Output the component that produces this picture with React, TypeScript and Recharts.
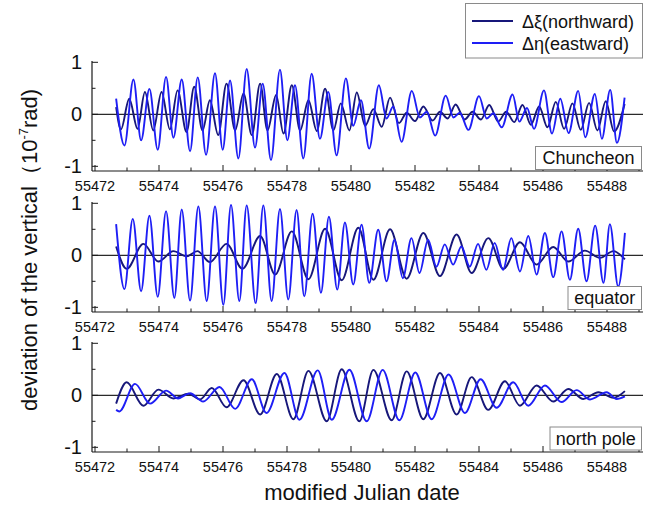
import React from 'react';
import { LineChart, Line, XAxis, YAxis, ReferenceLine } from 'recharts';

// ---------- data ----------
const xTicks = [55472, 55473, 55474, 55475, 55476, 55477, 55478, 55479, 55480, 55481, 55482, 55483, 55484, 55485, 55486, 55487, 55488, 55489];
const xLabelTicks = [55472, 55474, 55476, 55478, 55480, 55482, 55484, 55486, 55488];
const yTicks = [-1, -0.5, 0, 0.5, 1];
const yLabelTicks = [-1, 0, 1];
const seriesNames = ['Δξ(northward)', 'Δη(eastward)'];
const panelNames = ['Chuncheon', 'equator', 'north pole'];

// [modified Julian date, deviation (1e-7 rad)] at the turning points of each curve
const chuncheonNorth: [number, number][] = [
  [55472.66, 0.14], [55472.81, -0.29], [55473.07, 0.30], [55473.33, -0.28], [55473.56, 0.43],
  [55473.82, -0.31], [55474.08, 0.43], [55474.34, -0.29], [55474.58, 0.46], [55474.86, -0.34],
  [55475.10, 0.53], [55475.36, -0.31], [55475.59, 0.27], [55475.85, -0.40], [55476.11, 0.59],
  [55476.38, -0.31], [55476.64, 0.40], [55476.90, -0.40], [55477.16, 0.59], [55477.39, -0.31],
  [55477.66, 0.37], [55477.89, -0.37], [55478.15, 0.56], [55478.41, -0.31], [55478.67, 0.27],
  [55478.93, -0.32], [55479.19, 0.49], [55479.45, -0.31], [55479.68, 0.21], [55479.95, -0.31],
  [55480.18, 0.42], [55480.44, -0.22], [55480.70, 0.10], [55480.96, -0.24], [55481.22, 0.32],
  [55481.50, -0.17], [55481.74, 0.03], [55482.00, -0.13], [55482.26, 0.15], [55482.55, -0.12],
  [55482.78, 0.05], [55483.02, -0.08], [55483.27, 0.19], [55483.55, -0.10], [55483.80, 0.05],
  [55484.06, -0.10], [55484.32, 0.18], [55484.60, -0.14], [55484.85, 0.05], [55485.10, -0.15],
  [55485.36, 0.18], [55485.62, -0.20], [55485.88, 0.15], [55486.14, -0.25], [55486.40, 0.24],
  [55486.66, -0.28], [55486.92, 0.21], [55487.18, -0.30], [55487.44, 0.22], [55487.70, -0.31],
  [55487.96, 0.25], [55488.22, -0.33], [55488.55, 0.20],
];
const chuncheonEast: [number, number][] = [
  [55472.66, 0.30], [55472.92, -0.60], [55473.20, 0.67], [55473.44, -0.50], [55473.70, 0.49],
  [55473.96, -0.68], [55474.22, 0.72], [55474.45, -0.45], [55474.71, 0.67], [55474.97, -0.71],
  [55475.21, 0.71], [55475.47, -0.78], [55475.75, 0.79], [55475.99, -0.68], [55476.22, 0.65],
  [55476.48, -0.85], [55476.74, 0.87], [55477.00, -0.64], [55477.24, 0.59], [55477.50, -0.88],
  [55477.78, 0.86], [55478.01, -0.50], [55478.25, 0.56], [55478.51, -0.85], [55478.77, 0.78],
  [55479.03, -0.47], [55479.29, 0.43], [55479.55, -0.79], [55479.84, 0.69], [55480.07, -0.22],
  [55480.31, 0.27], [55480.57, -0.66], [55480.87, 0.56], [55481.11, -0.08], [55481.32, 0.15],
  [55481.58, -0.53], [55481.90, 0.45], [55482.15, -0.06], [55482.37, 0.05], [55482.63, -0.41],
  [55482.96, 0.36], [55483.20, -0.06], [55483.40, 0.03], [55483.67, -0.30], [55484.00, 0.35],
  [55484.24, -0.08], [55484.45, 0.02], [55484.71, -0.25], [55485.05, 0.38], [55485.26, -0.14],
  [55485.50, 0.12], [55485.72, -0.28], [55486.03, 0.46], [55486.28, -0.37], [55486.54, 0.30],
  [55486.80, -0.36], [55487.10, 0.45], [55487.32, -0.44], [55487.62, 0.39], [55487.84, -0.47],
  [55488.10, 0.47], [55488.31, -0.55], [55488.55, 0.32],
];
const equatorNorth: [number, number][] = [
  [55472.66, 0.17], [55472.99, -0.26], [55473.51, 0.22], [55473.98, -0.12], [55474.45, 0.08],
  [55474.86, -0.02], [55475.20, 0.08], [55475.59, -0.13], [55476.11, 0.22], [55476.61, -0.26],
  [55477.16, 0.37], [55477.63, -0.37], [55478.15, 0.46], [55478.67, -0.46], [55479.19, 0.51],
  [55479.71, -0.48], [55480.23, 0.53], [55480.70, -0.47], [55481.22, 0.50], [55481.74, -0.45],
  [55482.26, 0.43], [55482.78, -0.40], [55483.30, 0.40], [55483.77, -0.34], [55484.29, 0.33],
  [55484.76, -0.26], [55485.28, 0.25], [55485.80, -0.18], [55486.32, 0.16], [55486.79, -0.12],
  [55487.31, 0.09], [55487.78, -0.05], [55488.20, 0.08], [55488.56, -0.08],
];
const equatorEast: [number, number][] = [
  [55472.66, 0.60], [55472.92, -0.65], [55473.18, 0.70], [55473.44, -0.69], [55473.70, 0.76],
  [55473.96, -0.80], [55474.22, 0.85], [55474.48, -0.82], [55474.71, 0.88], [55474.97, -0.87],
  [55475.23, 0.94], [55475.49, -0.88], [55475.75, 0.94], [55476.01, -0.95], [55476.25, 0.97],
  [55476.51, -0.88], [55476.74, 0.96], [55477.02, -0.92], [55477.26, 0.96], [55477.52, -0.88],
  [55477.78, 0.89], [55478.04, -0.85], [55478.30, 0.87], [55478.54, -0.79], [55478.80, 0.80],
  [55479.06, -0.72], [55479.31, 0.74], [55479.57, -0.66], [55479.81, 0.63], [55480.07, -0.56],
  [55480.33, 0.59], [55480.57, -0.53], [55480.85, 0.49], [55481.11, -0.50], [55481.36, 0.30],
  [55481.62, -0.44], [55481.89, 0.33], [55482.14, -0.34], [55482.41, 0.30], [55482.67, -0.22],
  [55482.93, 0.21], [55483.19, -0.18], [55483.45, 0.17], [55483.71, -0.22], [55483.97, 0.22],
  [55484.23, -0.28], [55484.49, 0.24], [55484.75, -0.28], [55485.01, 0.33], [55485.28, -0.31],
  [55485.54, 0.37], [55485.80, -0.37], [55486.06, 0.43], [55486.32, -0.42], [55486.58, 0.46],
  [55486.84, -0.47], [55487.10, 0.51], [55487.36, -0.50], [55487.63, 0.57], [55487.89, -0.53],
  [55488.09, 0.60], [55488.35, -0.60], [55488.56, 0.43],
];
const northPoleNorth: [number, number][] = [
  [55472.66, -0.16], [55472.99, 0.25], [55473.51, -0.20], [55473.98, 0.11], [55474.45, -0.06],
  [55474.92, 0.03], [55475.28, -0.08], [55475.65, 0.14], [55476.11, -0.23], [55476.64, 0.29],
  [55477.16, -0.37], [55477.68, 0.41], [55478.20, -0.46], [55478.67, 0.47], [55479.24, -0.50],
  [55479.71, 0.50], [55480.26, -0.50], [55480.70, 0.49], [55481.27, -0.48], [55481.74, 0.46],
  [55482.26, -0.46], [55482.78, 0.43], [55483.30, -0.37], [55483.77, 0.35], [55484.29, -0.28],
  [55484.81, 0.27], [55485.28, -0.20], [55485.80, 0.19], [55486.32, -0.12], [55486.79, 0.12],
  [55487.26, -0.07], [55487.73, 0.06], [55488.20, -0.05], [55488.56, 0.08],
];
const northPoleEast: [number, number][] = [
  [55472.66, -0.28], [55472.76, -0.31], [55473.25, 0.22], [55473.72, -0.16], [55474.22, 0.09],
  [55474.60, -0.06], [55474.97, 0.04], [55475.38, -0.12], [55475.89, 0.16], [55476.38, -0.26],
  [55476.90, 0.31], [55477.36, -0.34], [55477.92, 0.43], [55478.39, -0.47], [55478.96, 0.48],
  [55479.40, -0.47], [55479.95, 0.49], [55480.49, -0.50], [55480.99, 0.49], [55481.51, -0.48],
  [55482.01, 0.44], [55482.52, -0.46], [55483.05, 0.40], [55483.56, -0.34], [55484.05, 0.31],
  [55484.55, -0.24], [55485.07, 0.25], [55485.54, -0.20], [55486.06, 0.19], [55486.58, -0.13],
  [55487.05, 0.10], [55487.47, -0.08], [55487.99, 0.06], [55488.30, -0.07], [55488.56, -0.02],
];

// ---------- styling ----------
const NAVY = '#17177a';
const BLUE = '#1e1ef5';
const AXIS = '#1a1a1a';
const FONT = '"Liberation Sans", Arial, Helvetica, sans-serif';
const CHART_W = 656;
const PLOT_LEFT = 92;
const RIGHT_PAD = 13;
const TOP_PAD = 10;
const PLOT_H = 110;
const XAXIS_H = 30;
const CHART_H = TOP_PAD + PLOT_H + XAXIS_H;
const X_DOMAIN: [number, number] = [55471.906, 55489.125];
const Y_DOMAIN: [number, number] = [-1.09, 1.025];
const PANEL_TOPS = [60.7, 202.3, 342.4];

const toPoints = (arr: [number, number][]) => arr.map(([t, v]) => ({ t, v }));

const XTick = (props: any) => {
  const { x, y, payload } = props;
  const v = payload.value;
  const major = xLabelTicks.includes(v);
  return (
    <g>
      <line x1={x} x2={x} y1={y} y2={y - (major ? 6 : 3.5)} stroke={AXIS} strokeWidth={1} />
      {major && (
        <text x={x} y={y + 20} textAnchor="middle" fontSize={14.5} fill="#111" fontFamily={FONT}>
          {v}
        </text>
      )}
    </g>
  );
};

const YTick = (props: any) => {
  const { x, y, payload } = props;
  const v = payload.value;
  const major = yLabelTicks.includes(v);
  return (
    <g>
      <line x1={x} x2={x + (major ? 6 : 3.5)} y1={y} y2={y} stroke={AXIS} strokeWidth={1} />
      {major && (
        <text x={x - 10} y={y + 7} textAnchor="end" fontSize={20} fill="#111" fontFamily={FONT}>
          {String(v)}
        </text>
      )}
    </g>
  );
};

function Panel({ top, north, east }: { top: number; north: [number, number][]; east: [number, number][] }) {
  return (
    <div style={{ position: 'absolute', left: 0, top: top - TOP_PAD }}>
      <LineChart width={CHART_W} height={CHART_H} margin={{ top: TOP_PAD, right: RIGHT_PAD, bottom: 0, left: 0 }}>
        <XAxis
          dataKey="t"
          type="number"
          domain={X_DOMAIN}
          allowDataOverflow
          ticks={xTicks}
          interval={0}
          tick={(p: any) => <XTick {...p} />}
          tickLine={false}
          tickSize={0}
          tickMargin={0}
          height={XAXIS_H}
          axisLine={{ stroke: AXIS, strokeWidth: 1.2 }}
        />
        <YAxis
          type="number"
          domain={Y_DOMAIN}
          allowDataOverflow
          ticks={yTicks}
          interval={0}
          tick={(p: any) => <YTick {...p} />}
          tickLine={false}
          tickSize={0}
          tickMargin={0}
          width={PLOT_LEFT}
          axisLine={{ stroke: AXIS, strokeWidth: 1.2 }}
        />
        <ReferenceLine y={0} stroke="#2a2a2a" strokeWidth={1.2} />
        <Line data={toPoints(north)} dataKey="v" type="monotone" stroke={NAVY} strokeWidth={1.9} dot={false} isAnimationActive={false} />
        <Line data={toPoints(east)} dataKey="v" type="monotone" stroke={BLUE} strokeWidth={1.9} dot={false} isAnimationActive={false} />
      </LineChart>
    </div>
  );
}

const labelBoxes = [
  { x: 535.5, y: 146.5, w: 106, h: 23 },
  { x: 568, y: 286.5, w: 73.5, h: 23 },
  { x: 550, y: 427, w: 91.5, h: 23 },
];

export default function App() {
  return (
    <div style={{ position: 'absolute', left: 0, top: 0, width: 656, height: 513, background: '#fff', fontFamily: FONT }}>
      <Panel top={PANEL_TOPS[0]} north={chuncheonNorth} east={chuncheonEast} />
      <Panel top={PANEL_TOPS[1]} north={equatorNorth} east={equatorEast} />
      <Panel top={PANEL_TOPS[2]} north={northPoleNorth} east={northPoleEast} />
      <svg width={656} height={513} style={{ position: 'absolute', left: 0, top: 0, pointerEvents: 'none' }}>
        {/* legend */}
        <rect x={465.5} y={3.5} width={177} height={54.5} fill="#fff" stroke="#8a8a8a" strokeWidth={1} />
        <line x1={472} x2={513} y1={21} y2={21} stroke={NAVY} strokeWidth={2} />
        <text x={522} y={28} fontSize={18} fill="#111" fontFamily={FONT}>{seriesNames[0]}</text>
        <line x1={472} x2={513} y1={43} y2={43} stroke={BLUE} strokeWidth={2} />
        <text x={522} y={49.5} fontSize={18} fill="#111" fontFamily={FONT}>{seriesNames[1]}</text>
        {/* panel labels */}
        {labelBoxes.map((b, i) => (
          <g key={i}>
            <rect x={b.x} y={b.y} width={b.w} height={b.h} fill="#fff" stroke="#8a8a8a" strokeWidth={1} />
            <text x={b.x + b.w / 2} y={b.y + 17.5} textAnchor="middle" fontSize={18} fill="#111" fontFamily={FONT}>
              {panelNames[i]}
            </text>
          </g>
        ))}
        {/* axis titles */}
        <text transform="rotate(-90, 37, 250)" x={37} y={250} textAnchor="middle" fontSize={22} fill="#111" fontFamily={FONT}>
          deviation of the vertical（10<tspan dy={-9} fontSize={13}>-7</tspan><tspan dy={9}>rad)</tspan>
        </text>
        <text x={362} y={500} textAnchor="middle" fontSize={22} fill="#111" fontFamily={FONT}>
          modified Julian date
        </text>
      </svg>
    </div>
  );
}
